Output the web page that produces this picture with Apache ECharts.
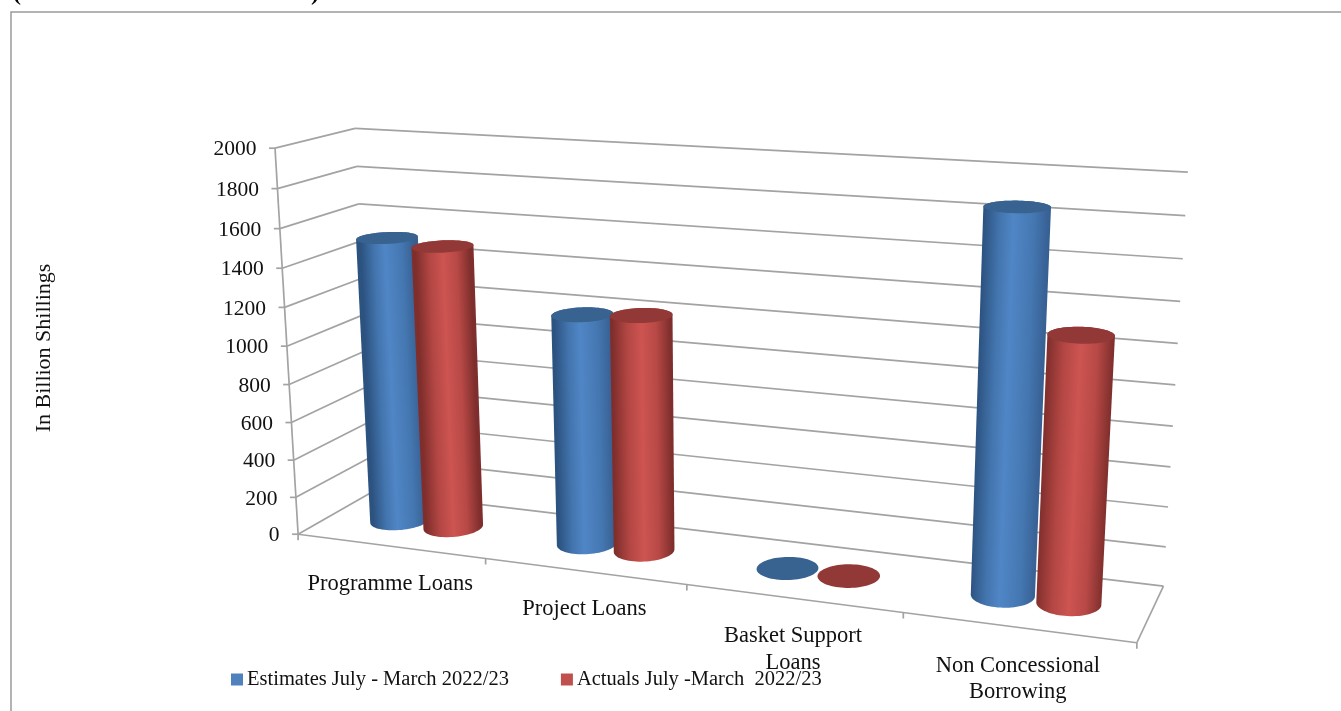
<!DOCTYPE html>
<html><head><meta charset="utf-8">
<style>html,body{margin:0;padding:0;background:#fff;overflow:hidden}#c{width:1341px;height:711px}</style>
<script src="https://cdn.jsdelivr.net/npm/echarts@6/dist/echarts.min.js"></script>
</head><body><div id="c"></div>
<script>
// ---- data ----
const categories = ['Programme Loans', 'Project Loans', 'Basket Support\nLoans', 'Non Concessional\nBorrowing'];
const seriesNames = ['Estimates July - March 2022/23', 'Actuals July -March  2022/23'];
const estimates = [1510, 1195, 0, 1862];
const actuals = [1487, 1216, 0, 1294];
const yTicks = [0, 200, 400, 600, 800, 1000, 1200, 1400, 1600, 1800, 2000];
const yTitle = 'In Billion Shillings';

// ---- camera calibration: [across, depth, height, screenX, screenY] ----
const viewAnchors = [
  [0,0,0,299,534],[.25,0,0,486,558.3],[.5,0,0,687,584.5],[.75,0,0,903,612.6],[1,0,0,1137,643],
  [0,0,.1,296,497],[0,0,.2,294,460],[0,0,.3,291.3,423],[0,0,.4,289,385],[0,0,.5,286.7,346],
  [0,0,.6,284,307],[0,0,.7,282,268],[0,0,.8,279.5,228.5],[0,0,.9,277.3,189],[0,0,1,275,148.5],
  [0,1,0,372,492],[0,1,1,355.5,128.5],[0,1,.9,357.3,166],[0,1,.8,359.3,204],
  [1,1,0,1163,586],[1,1,.1,1166,547],[1,1,.2,1168,507],[1,1,.3,1170.7,467],[1,1,.4,1173,426],
  [1,1,.5,1175.5,385],[1,1,.6,1177.7,343],[1,1,.7,1180,301],[1,1,.8,1182.7,259],[1,1,.9,1185,216],[1,1,1,1188,172]
];
function fitView(a){
  const n=11, M=Array.from({length:n},()=>new Array(n+1).fill(0));
  const add=(r,b)=>{for(let i=0;i<n;i++){for(let j=0;j<n;j++)M[i][j]+=r[i]*r[j];M[i][n]+=r[i]*b;}};
  a.forEach(([u,d,h,x,y])=>{const X=x/1000,Y=y/1000;
    add([u,d,h,1,0,0,0,0,-u*X,-d*X,-h*X],X);
    add([0,0,0,0,u,d,h,1,-u*Y,-d*Y,-h*Y],Y);});
  for(let i=0;i<n;i++){let p=i;for(let k=i+1;k<n;k++)if(Math.abs(M[k][i])>Math.abs(M[p][i]))p=k;
    [M[i],M[p]]=[M[p],M[i]];
    for(let k=0;k<n;k++){if(k===i)continue;const f=M[k][i]/M[i][i];for(let j=i;j<=n;j++)M[k][j]-=f*M[i][j];}}
  return M.map((r,i)=>r[n]/r[i]);
}
const P=fitView(viewAnchors);
function project(u,d,h){const w=P[8]*u+P[9]*d+P[10]*h+1;
  return [1000*(P[0]*u+P[1]*d+P[2]*h+P[3])/w,1000*(P[4]*u+P[5]*d+P[6]*h+P[7])/w];}

// hidden plane: the category and value scales of this grid feed the projection
const gridRect={left:275,top:155,width:860,height:386};
const FONT='"Liberation Serif"';
const LINE='#a3a3a3', TXT='#111';
const normU=(api,c,sys)=>(api.coord([c,0])[0]-sys.x)/sys.width;
const normH=(api,v,sys)=>(sys.y+sys.height-api.coord([0,v])[1])/sys.height;
const line=(a,b,w)=>({type:'line',shape:{x1:a[0],y1:a[1],x2:b[0],y2:b[1]},style:{stroke:LINE,lineWidth:w||1.7},silent:true});

function renderWall(params,api){
  const s=params.coordSys,v=api.value(0),h=normH(api,v,s);
  const f=project(0,0,h),l=project(0,1,h),r=project(1,1,h);
  return {type:'group',children:[line(f,l),line(l,r),line([f[0]-6,f[1]],f),
    {type:'text',silent:true,style:{x:f[0]-18.5,y:f[1]+1.5,text:String(v),align:'right',verticalAlign:'middle',font:'21.5px '+FONT,fill:TXT}}]};
}
function renderFloor(params,api){
  const s=params.coordSys,i=api.value(0),uc=normU(api,i,s),st=(normU(api,1,s)-normU(api,0,s));
  const u1=uc+st/2,p=project(u1,0,0),kids=[line([p[0],p[1]],[p[0],p[1]+6])];
  if(i===0){const o=project(0,0,0);kids.push(line(project(0,0,1),o),line(o,project(1,0,0)),line([o[0],o[1]],[o[0],o[1]+6]));}
  if(i===categories.length-1)kids.push(line(project(1,0,0),project(1,1,0)));
  const c=project(uc,0,0);
  kids.push({type:'text',silent:true,style:{x:c[0],y:c[1]+25,text:categories[i],align:'center',verticalAlign:'top',font:'22.5px '+FONT,lineHeight:26.5,fill:TXT}});
  return {type:'group',children:kids};
}
function hull(pts){
  const q=pts.slice().sort((a,b)=>a[0]-b[0]||a[1]-b[1]),cr=(o,a,b)=>(a[0]-o[0])*(b[1]-o[1])-(a[1]-o[1])*(b[0]-o[0]);
  const lo=[],up=[];
  q.forEach(p=>{while(lo.length>1&&cr(lo[lo.length-2],lo[lo.length-1],p)<=0)lo.pop();lo.push(p);});
  q.reverse().forEach(p=>{while(up.length>1&&cr(up[up.length-2],up[up.length-1],p)<=0)up.pop();up.push(p);});
  return lo.slice(0,-1).concat(up.slice(0,-1));
}
const RU=0.0348,RD=0.22,DC=0.5,OFFSET=0.0365;
function cylinder(side,shade){
  return function(params,api){
    const s=params.coordSys,uc=normU(api,api.value(0),s)+side*OFFSET,h=normH(api,api.value(1),s);
    const ring=z=>{const a=[];for(let t=0;t<72;t++){const g=t/72*2*Math.PI;a.push(project(uc+RU*Math.cos(g),DC+RD*Math.sin(g),z));}return a;};
    const bot=ring(0),top=ring(h),kids=[];
    const cb=project(uc,DC,0),ct=project(uc,DC,h);
    if(h>0.001){
      const ax=ct[0]-cb[0],ay=ct[1]-cb[1],L=Math.hypot(ax,ay),px=-ay/L,py=ax/L;
      const sgn=px>0?1:-1,mx=(cb[0]+ct[0])/2,my=(cb[1]+ct[1])/2;
      const pa=project(uc-RU,DC,h/2),pb=project(uc+RU,DC,h/2),hw=Math.hypot(pb[0]-pa[0],pb[1]-pa[1])/2+1;
      kids.push({type:'polygon',silent:true,shape:{points:hull(bot.concat(top))},style:{fill:{type:'linear',global:true,
        x:mx-sgn*px*hw,y:my-sgn*py*hw,x2:mx+sgn*px*hw,y2:my+sgn*py*hw,colorStops:shade.body}}});
    }
    kids.push({type:'polygon',silent:true,shape:{points:top},style:{fill:shade.cap}});
    return {type:'group',children:kids};
  };
}
const blueShade={cap:'#38628f',body:[{offset:0,color:'#2c5280'},{offset:.25,color:'#4375ae'},{offset:.45,color:'#5086c6'},{offset:.75,color:'#4578b2'},{offset:1,color:'#375f92'}]};
const redShade={cap:'#923836',body:[{offset:0,color:'#7f2e2c'},{offset:.25,color:'#b24643'},{offset:.5,color:'#cd5451'},{offset:.75,color:'#b84946'},{offset:1,color:'#7e2e2c'}]};

const chart=echarts.init(document.getElementById('c'));
chart.setOption({
  animation:false,backgroundColor:'#fff',
  grid:gridRect,
  xAxis:{type:'category',data:categories,show:false},
  yAxis:{type:'value',min:0,max:2000,interval:200,name:yTitle,nameLocation:'middle',nameRotate:90,nameGap:220,
    nameTextStyle:{fontFamily:FONT,fontSize:22,color:TXT},axisLine:{show:false},axisTick:{show:false},axisLabel:{show:false},splitLine:{show:false}},
  legend:{left:226,top:664,itemWidth:12,itemHeight:12,itemGap:52,icon:'rect',data:seriesNames,selectedMode:false,
    textStyle:{fontFamily:FONT,fontSize:20.5,color:TXT,padding:[0,0,0,-1]}},
  graphic:[
    {type:'rect',silent:true,shape:{x:11,y:12,width:1500,height:900},style:{fill:'none',stroke:'#9a9a9a',lineWidth:1.5}},
    {type:'text',silent:true,style:{x:13,y:6,verticalAlign:'bottom',text:'(',font:'bold 24px "Liberation Serif"',fill:'#000'}},
    {type:'text',silent:true,style:{x:311,y:6,verticalAlign:'bottom',text:')',font:'bold 24px "Liberation Serif"',fill:'#000'}}
  ],
  series:[
    {type:'custom',silent:true,renderItem:renderWall,data:yTicks.map(v=>[v]),encode:{y:0}},
    {type:'custom',silent:true,renderItem:renderFloor,data:categories.map((c,i)=>[i]),encode:{x:0}},
    {type:'custom',name:seriesNames[0],silent:true,itemStyle:{color:'#4f81bd'},renderItem:cylinder(-1,blueShade),data:estimates.map((v,i)=>[i,v]),encode:{x:0,y:1}},
    {type:'custom',name:seriesNames[1],silent:true,itemStyle:{color:'#c0504d'},renderItem:cylinder(1,redShade),data:actuals.map((v,i)=>[i,v]),encode:{x:0,y:1}}
  ]
});
</script></body></html>
